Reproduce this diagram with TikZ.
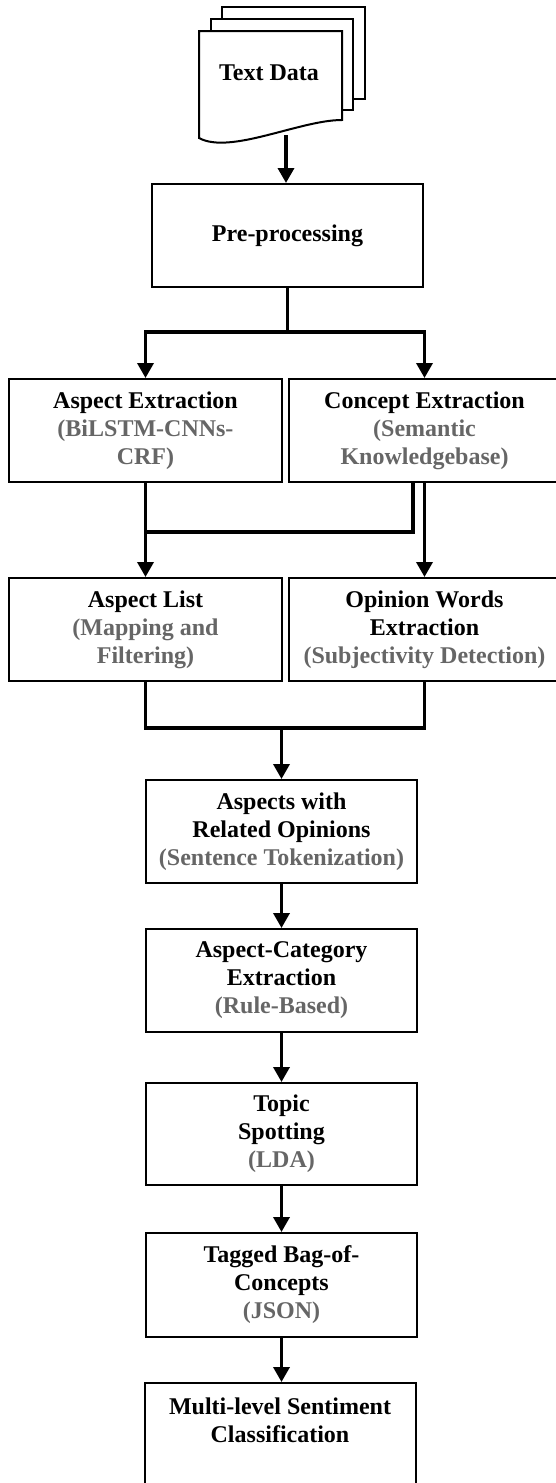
\documentclass[tikz,border=0pt]{standalone}
\usepackage{fontspec}
\setmainfont{Liberation Serif}
\usetikzlibrary{arrows.meta,calc}
\definecolor{subgray}{RGB}{102,102,102}
\tikzset{
  box/.style={draw=black, line width=2pt, fill=white, align=center, inner sep=0pt,
    minimum width=271pt, minimum height=103pt,
    font=\fontsize{24}{28}\selectfont\bfseries},
  page/.style={draw=black, line width=2pt, fill=white},
  conn/.style={line width=3.5pt, line cap=rect},
  arr/.style={line width=3.5pt, -{Triangle[width=16pt,length=15pt]}},
}
\newcommand{\sub}[1]{\textcolor{subgray}{#1}}
\begin{document}
\begin{tikzpicture}[x=1pt,y=-1pt]
\useasboundingbox (0,0) rectangle (556,1483);
\clip (0,0) rectangle (556,1483);
% document stack
\draw[page] (222,7) rectangle (365,99);
\draw[page] (211,19) rectangle (353,110);
\draw[page] (199,31) -- (342,31) -- (342,120)
  .. controls (300,120) and (230,155) .. (199,138) -- cycle;
\node[font=\fontsize{24}{28}\selectfont\bfseries] (doc) at (269,73) {Text Data};
\coordinate (docb) at (286,135);
% boxes
\node[box] (pre) at (287.5,235.5) {Pre-processing};
\node[box, minimum width=273pt] (ae) at (145.5,430.5) {Aspect Extraction\\\sub{(BiLSTM-CNNs-}\\\sub{CRF)}};
\node[box] (ce) at (424.5,430.5) {Concept Extraction\\\sub{(Semantic}\\\sub{Knowledgebase)}};
\node[box, minimum width=273pt] (al) at (145.5,629.5) {Aspect List\\\sub{(Mapping and}\\\sub{Filtering)}};
\node[box] (ow) at (424.5,629.5) {Opinion Words\\Extraction\\\sub{(Subjectivity Detection)}};
\node[box] (awr) at (281.5,831.5) {Aspects with\\Related Opinions\\\sub{(Sentence Tokenization)}};
\node[box] (acx) at (281.5,980.5) {Aspect-Category\\Extraction\\\sub{(Rule-Based)}};
\node[box, minimum height=102pt] (ts) at (281.5,1134) {Topic\\Spotting\\\sub{(LDA)}};
\node[box, minimum height=104pt] (tb) at (281.5,1285) {Tagged Bag-of-\\Concepts\\\sub{(JSON)}};
\node[box, minimum height=112pt] (ml) at (280,1439) {Multi-level Sentiment\\Classification\\[2pt]\strut};
% connectors
\draw[arr] (docb) -- (docb |- pre.north);
\coordinate (j1) at (287.5,332);
\draw[conn] (pre.south) -- (j1);
\draw[conn] (ae.north |- j1) -- (ce.north |- j1);
\draw[arr] (ae.north |- j1) -- (ae.north);
\draw[arr] (ce.north |- j1) -- (ce.north);
\coordinate (j2) at (413,532);
\draw[conn] (ae.south) -- (ae.south |- j2) -- (j2) -- (j2 |- ce.south);
\draw[arr] (ae.south |- j2) -- (al.north);
\draw[arr] (ow.north |- ce.south) -- (ow.north);
\coordinate (j3) at (281.5,728);
\draw[conn] (al.south) -- (al.south |- j3) -- (ow.south |- j3) -- (ow.south);
\draw[arr] (j3) -- (awr.north);
\draw[arr] (awr.south) -- (acx.north);
\draw[arr] (acx.south) -- (ts.north);
\draw[arr] (ts.south) -- (tb.north);
\draw[arr] (tb.south) -- (tb.south |- ml.north);
\end{tikzpicture}
\end{document}
